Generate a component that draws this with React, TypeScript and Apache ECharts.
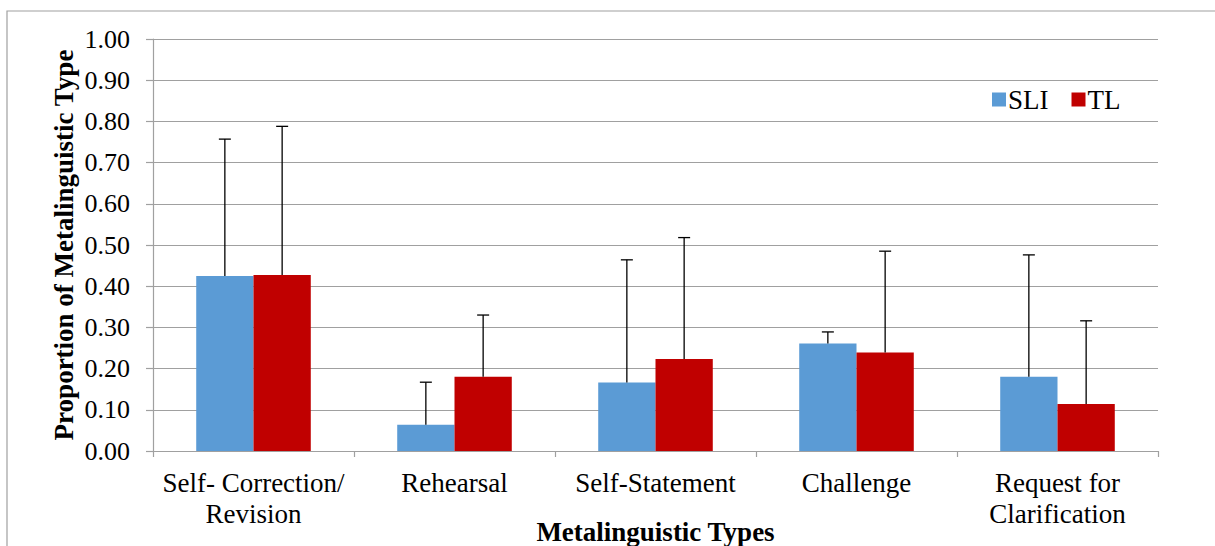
import React, { useEffect, useRef } from "react";
import * as echarts from "echarts";

const categories = [
  "Self- Correction/\nRevision",
  "Rehearsal",
  "Self-Statement",
  "Challenge",
  "Request for\nClarification",
];
const seriesNames = ["SLI", "TL"];
const sliMeans = [0.425, 0.064, 0.166, 0.261, 0.18];
const tlMeans = [0.427, 0.18, 0.223, 0.239, 0.114];
const sliSD = [0.332, 0.103, 0.298, 0.028, 0.296];
const tlSD = [0.361, 0.15, 0.295, 0.246, 0.202];
const yTicks = [0, 0.1, 0.2, 0.3, 0.4, 0.5, 0.6, 0.7, 0.8, 0.9, 1.0];

const colors = ["#5B9BD5", "#C00000"];
const FONT = "Liberation Serif";
const CAT_GAP = 0.43;
const W = 1215;
const H = 546;

function makeErrorSeries(means: number[], sds: number[], idx: number) {
  const data = means.map((m, i) => [i, m, m + sds[i]]);
  return {
    type: "custom",
    name: seriesNames[idx] + " error",
    silent: true,
    z: 5,
    data,
    encode: { x: 0, y: [1, 2] },
    renderItem: (params: any, api: any) => {
      const x = api.value(0);
      const lo = api.coord([x, api.value(1)]);
      const hi = api.coord([x, api.value(2)]);
      const catW = api.size([1, 0])[0];
      const barW = (catW * (1 - CAT_GAP)) / 2;
      const cx = lo[0] + (idx === 0 ? -barW / 2 : barW / 2);
      const half = 6;
      const style = { stroke: "#000", lineWidth: 1.3 };
      return {
        type: "group",
        children: [
          { type: "line", shape: { x1: cx, y1: lo[1], x2: cx, y2: hi[1] }, style },
          { type: "line", shape: { x1: cx - half, y1: hi[1], x2: cx + half, y2: hi[1] }, style },
        ],
      };
    },
  };
}

export default function App() {
  const ref = useRef<HTMLDivElement>(null);
  useEffect(() => {
    if (!ref.current) return;
    const chart = echarts.init(ref.current, null, { renderer: "svg", width: W, height: H });
    chart.setOption({
      animation: false,
      backgroundColor: "#fff",
      textStyle: { fontFamily: FONT },
      graphic: [
        {
          type: "rect",
          shape: { x: 7, y: 11, width: 1400, height: 800 },
          style: { fill: "none", stroke: "#a0a0a0", lineWidth: 1.2 },
          silent: true,
          z: -10,
        },
      ],
      legend: {
        data: seriesNames,
        left: 987,
        top: 81,
        itemWidth: 14,
        itemHeight: 14,
        itemGap: 23,
        icon: "rect",
        textStyle: { fontFamily: FONT, fontSize: 27, color: "#000", padding: [0, 0, 0, -3] },
      },
      grid: {
        left: 153,
        right: 57,
        top: 39,
        bottom: 95,
        containLabel: false,
        outerBoundsMode: "none",
      },
      xAxis: {
        type: "category",
        data: categories,
        name: "Metalinguistic Types",
        nameLocation: "middle",
        nameGap: 67,
        nameMoveOverlap: false,
        nameTextStyle: { fontFamily: FONT, fontSize: 27, fontWeight: "bold", color: "#000" },
        axisLine: { lineStyle: { color: "#a0a0a0", width: 1.2 } },
        axisTick: { show: true, length: 6, lineStyle: { color: "#a0a0a0", width: 1.2 } },
        axisLabel: {
          fontFamily: FONT,
          fontSize: 27,
          color: "#000",
          lineHeight: 31,
          margin: 16,
          interval: 0,
        },
      },
      yAxis: {
        type: "value",
        min: yTicks[0],
        max: yTicks[yTicks.length - 1],
        interval: 0.1,
        name: "Proportion of Metalinguistic Type",
        nameLocation: "middle",
        nameGap: 76,
        nameMoveOverlap: false,
        nameTextStyle: { fontFamily: FONT, fontSize: 27, fontWeight: "bold", color: "#000" },
        axisLine: { show: true, lineStyle: { color: "#a0a0a0", width: 1.2 } },
        axisTick: { show: true, length: 7, lineStyle: { color: "#a0a0a0", width: 1.2 } },
        splitLine: { lineStyle: { color: "#a0a0a0", width: 1.2 } },
        axisLabel: {
          fontFamily: FONT,
          fontSize: 26,
          color: "#000",
          margin: 23,
          formatter: (v: number) => v.toFixed(2),
        },
      },
      series: [
        {
          type: "bar",
          name: seriesNames[0],
          data: sliMeans,
          itemStyle: { color: colors[0] },
          barGap: "0%",
          barCategoryGap: CAT_GAP * 100 + "%",
        },
        {
          type: "bar",
          name: seriesNames[1],
          data: tlMeans,
          itemStyle: { color: colors[1] },
          barGap: "0%",
          barCategoryGap: CAT_GAP * 100 + "%",
        },
        makeErrorSeries(sliMeans, sliSD, 0),
        makeErrorSeries(tlMeans, tlSD, 1),
      ],
    });
    return () => chart.dispose();
  }, []);
  return (
    <div
      ref={ref}
      style={{ position: "fixed", left: 0, top: 0, width: W, height: H }}
    />
  );
}
